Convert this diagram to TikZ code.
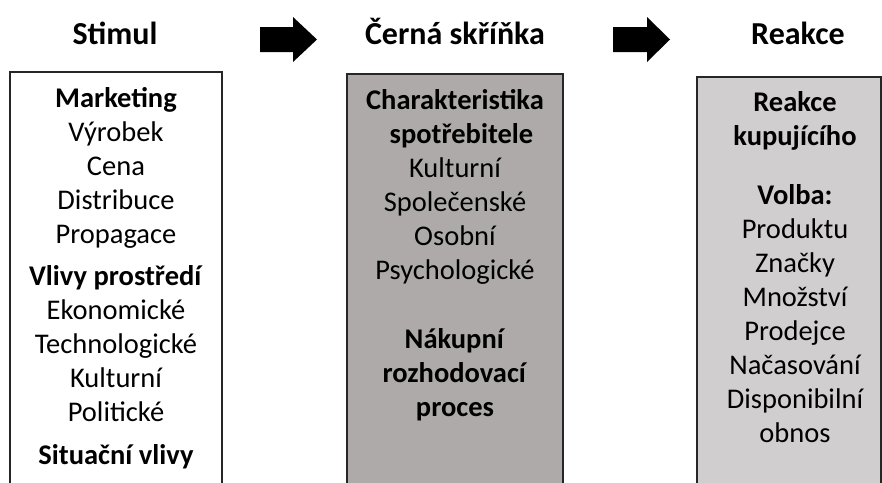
\documentclass[tikz,border=0pt]{standalone}
\usepackage{fontspec}
\setmainfont{Carlito}
\definecolor{boxdark}{HTML}{AEAAAA}
\definecolor{boxlight}{HTML}{D0CECE}
\tikzset{
  title/.style={font=\fontsize{32}{38}\selectfont\bfseries, anchor=base},
  boxtext/.style={font=\fontsize{28.5}{34}\selectfont, align=center, inner sep=0pt, anchor=north},
  panel/.style={draw=black!85, line width=1.3pt}
}
\begin{document}
\begin{tikzpicture}[x=1pt,y=-1pt]
\useasboundingbox (0,0) rectangle (882,482);
\clip (0,0) rectangle (882,482);

% Titles at the top
\node[title] (stimul) at (115,44) {Stimul};
\node[title] (skrinka) at (455,44) {Černá skříňka};
\node[title] (reakce) at (798,44) {Reakce};

% Block arrows between the titles
\fill (260,27) -- (293,27) -- (293,17) -- (317,39.5) -- (293,62) -- (293,52) -- (260,52) -- cycle;
\fill (613,27) -- (647,27) -- (647,17) -- (670,39.5) -- (647,62) -- (647,52) -- (613,52) -- cycle;

% Left box - stimuli
\draw[panel, fill=white] (10,72) rectangle (222,500);
\node[boxtext] (stimlist) at (116,87) {\textbf{Marketing}\\ Výrobek\\ Cena\\ Distribuce\\ Propagace\\[8pt]
  \textbf{Vlivy prostředí}\\ Ekonomické\\ Technologické\\ Kulturní\\ Politické\\[9pt]
  \textbf{Situační vlivy}};

% Middle box - black box
\draw[panel, fill=boxdark] (347,74) rectangle (563,500);
\node[boxtext] (boxlist) at (455,89) {\textbf{Charakteristika}\\ \textbf{\ \ spotřebitele}\\ Kulturní\\ Společenské\\ Osobní\\ Psychologické\\[35pt]
  \textbf{Nákupní}\\ \textbf{rozhodovací}\\ \textbf{proces}};

% Right box - response
\draw[panel, fill=boxlight] (697,77) rectangle (881,500);
\node[boxtext] (resplist) at (795,91) {\textbf{Reakce}\\ \textbf{kupujícího}\\[25pt]
  \textbf{Volba:}\\ Produktu\\ Značky\\ Množství\\ Prodejce\\ Načasování\\ Disponibilní\\ obnos};
\end{tikzpicture}
\end{document}
